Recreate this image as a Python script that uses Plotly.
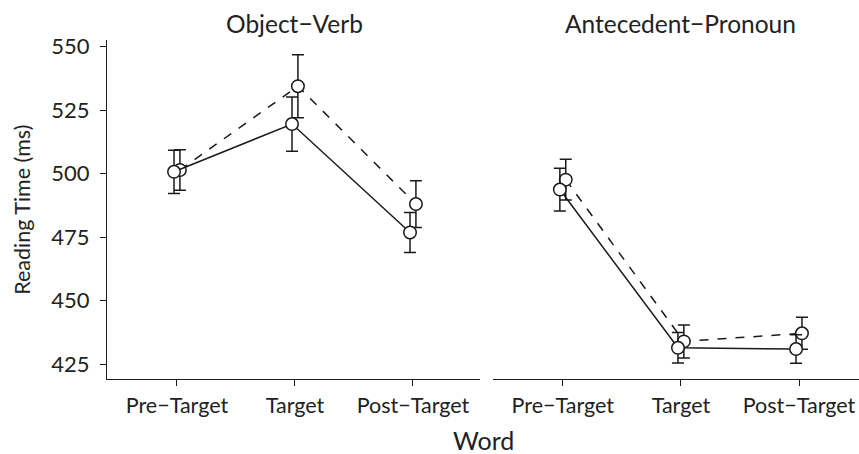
import plotly.graph_objects as go

# Reading times by word position, two conditions per panel
words = ["Pre\u2212Target", "Target", "Post\u2212Target"]
panels = ["Object\u2212Verb", "Antecedent\u2212Pronoun"]

# solid line condition
ov_solid = [500.7, 519.5, 476.8]
ov_solid_err = [8.5, 10.7, 7.9]
ap_solid = [493.7, 431.4, 430.9]
ap_solid_err = [8.4, 6.0, 5.6]

# dashed line condition
ov_dashed = [501.4, 534.4, 488.0]
ov_dashed_err = [8.0, 12.4, 9.2]
ap_dashed = [497.6, 433.9, 437.1]
ap_dashed_err = [8.0, 6.5, 6.3]

y_ticks = [425, 450, 475, 500, 525, 550]

ink = "#1a1a1a"
txt = "#222"
font_family = "Lato, 'Open Sans', sans-serif"
dodge = 0.025
pos = list(range(len(words)))

fig = go.Figure()

def add_series(vals, errs, dash, offset, xa, ya):
    fig.add_trace(go.Scatter(
        x=[p + offset for p in pos], y=vals,
        mode="lines+markers",
        line=dict(color=ink, width=1.5, dash=dash),
        marker=dict(symbol="circle", size=12.5, color="white",
                    line=dict(color=ink, width=1.5)),
        error_y=dict(type="data", array=errs, visible=True,
                     color=ink, thickness=1.5, width=6),
        xaxis=xa, yaxis=ya, showlegend=False,
    ))

add_series(ov_dashed, ov_dashed_err, "dash", dodge, "x", "y")
add_series(ov_solid, ov_solid_err, "solid", -dodge, "x", "y")
add_series(ap_dashed, ap_dashed_err, "dash", dodge, "x2", "y2")
add_series(ap_solid, ap_solid_err, "solid", -dodge, "x2", "y2")

xcommon = dict(
    tickmode="array", tickvals=pos, ticktext=words,
    showline=True, linecolor=ink, linewidth=1,
    ticks="outside", ticklen=6, tickcolor=ink,
    showgrid=False, zeroline=False, automargin=False,
    tickfont=dict(size=21.5, color=txt), ticklabelstandoff=1,
)
ycommon = dict(range=[419.1, 552.6], showgrid=False, zeroline=False, automargin=False)

fig.update_layout(
    width=859, height=454,
    margin=dict(l=107, r=0, t=40, b=75),
    plot_bgcolor="white", paper_bgcolor="white",
    font=dict(family=font_family, color=txt),
    xaxis=dict(domain=[0, 0.496], range=[-0.593, 2.568], **xcommon),
    xaxis2=dict(domain=[0.513, 1], range=[-0.593, 2.508], **xcommon),
    yaxis=dict(
        anchor="x", tickvals=y_ticks,
        showline=True, linecolor=ink, linewidth=1,
        ticks="outside", ticklen=6, tickcolor=ink,
        tickfont=dict(size=22, color=txt), ticklabelstandoff=6,
        **ycommon,
    ),
    yaxis2=dict(anchor="x2", showticklabels=False, showline=False, ticks="", **ycommon),
    annotations=[
        dict(text=panels[0], x=1, y=1.05, xref="x", yref="paper",
             xanchor="center", yanchor="middle", showarrow=False,
             font=dict(size=24.5, color=txt)),
        dict(text=panels[1], x=1, y=1.05, xref="x2", yref="paper",
             xanchor="center", yanchor="middle", showarrow=False,
             font=dict(size=24.5, color=txt)),
        dict(text="Word", x=0.5, y=-0.18, xref="paper", yref="paper",
             xanchor="center", yanchor="middle", showarrow=False,
             font=dict(size=25, color=txt)),
        dict(text="Reading Time (ms)", x=-0.114, y=0.5, xref="paper", yref="paper",
             xanchor="center", yanchor="middle", textangle=-90, showarrow=False,
             font=dict(size=21.5, color=txt)),
    ],
)

# drop the default page margin so the figure fills the window exactly
fig.write_html("out.html", config={"displayModeBar": False},
               post_script="document.body.style.margin='0';document.body.style.overflow='hidden';")
